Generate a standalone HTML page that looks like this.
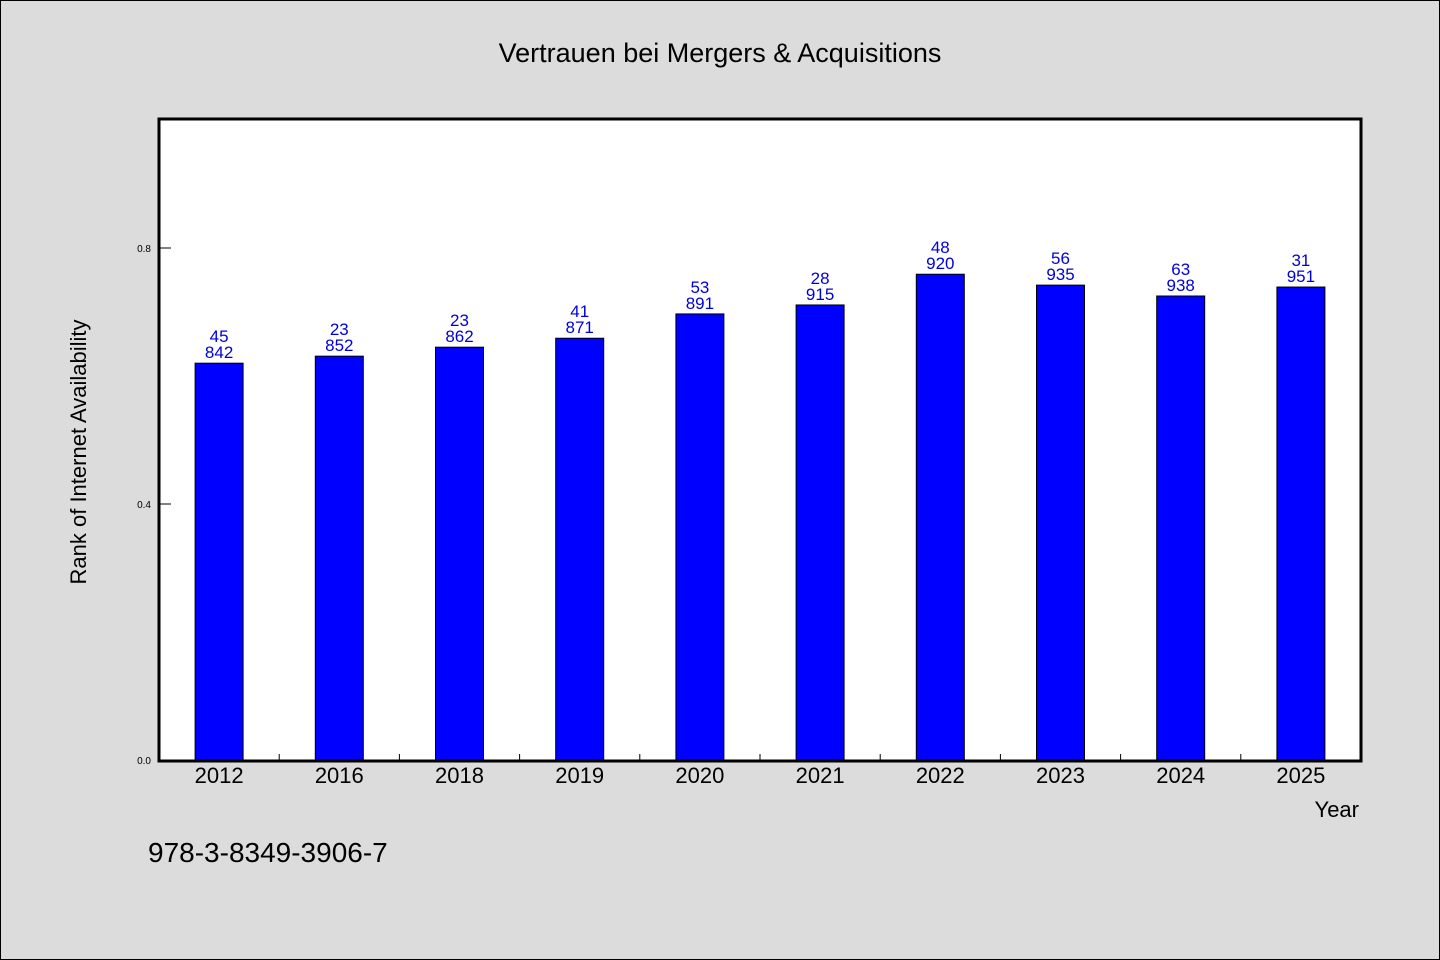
<!DOCTYPE html>
<html><head><meta charset="utf-8"><style>
html,body{margin:0;padding:0;background:#dcdcdc;}
svg{display:block;font-family:"WenQuanYi Zen Hei","Liberation Sans",sans-serif;}
</style></head><body>
<svg id="chart" width="1440" height="960" viewBox="0 0 1440 960">
<rect x="0.5" y="0.5" width="1439" height="959" fill="#dcdcdc" stroke="#000"/>
<text x="720" y="62" text-anchor="middle" font-size="27" fill="#000">Vertrauen bei Mergers &amp; Acquisitions</text>
<rect x="159" y="119" width="1202" height="642" fill="#fff"/>
<g id="marks"></g>
<rect x="159" y="119" width="1202" height="642" fill="none" stroke="#000" stroke-width="3"/>
<text x="86" y="452" text-anchor="middle" font-size="22" transform="rotate(-90 86 452)">Rank of Internet Availability</text>
<text x="1359" y="817" text-anchor="end" font-size="22">Year</text>
<text x="148" y="862" font-size="28">978-3-8349-3906-7</text>
</svg>
<script>
const categories=["2012","2016","2018","2019","2020","2021","2022","2023","2024","2025"];
const values=[0.620,0.631,0.645,0.659,0.697,0.711,0.759,0.742,0.725,0.739];
const topLabels=["45","23","23","41","53","28","48","56","63","31"];
const bottomLabels=["842","852","862","871","891","915","920","935","938","951"];
const yTicks=[0.0,0.4,0.8];
const yTickLabels=["0.0","0.4","0.8"];
const NS="http://www.w3.org/2000/svg";
const X0=159,X1=1361,Y0=760,YMAX=1.0,YTOP=120;
const band=(X1-X0)/categories.length;
function x(i){return X0+band*(i+0.5);}
function y(v){return Y0-(Y0-YTOP)*v/YMAX;}
const g=document.getElementById('marks');
function mk(t,a){const e=document.createElementNS(NS,t);for(const k in a)e.setAttribute(k,a[k]);g.appendChild(e);return e;}
yTicks.forEach((v,i)=>{
  const l=mk('line',{x1:X0,x2:X0+12,y1:y(v),y2:y(v),stroke:'#000','stroke-width':1});
  
  
  const t=mk('text',{x:X0-8,y:y(v)+4,'text-anchor':'end','font-size':10});
  t.textContent=yTickLabels[i];
  
  
});
categories.forEach((c,i)=>{
  if(i>0){const l=mk('line',{x1:X0+band*i,x2:X0+band*i,y1:Y0,y2:Y0-6,stroke:'#000'});
  
  }
  const bw=48;
  const r=mk('rect',{x:x(i)-bw/2,y:y(values[i]),width:bw,height:Y0-y(values[i]),fill:'#0000ff',stroke:'#000','stroke-width':1});
  
  
  const t1=mk('text',{x:x(i),y:y(values[i])-21,'text-anchor':'middle','font-size':17,fill:'#0000dd'});
  t1.textContent=topLabels[i];
  
  
  const t2=mk('text',{x:x(i),y:y(values[i])-5,'text-anchor':'middle','font-size':17,fill:'#0000dd'});
  t2.textContent=bottomLabels[i];
  
  
  const xl=mk('text',{x:x(i),y:783,'text-anchor':'middle','font-size':22});
  xl.textContent=c;
  
  
});
</script>
</body></html>
